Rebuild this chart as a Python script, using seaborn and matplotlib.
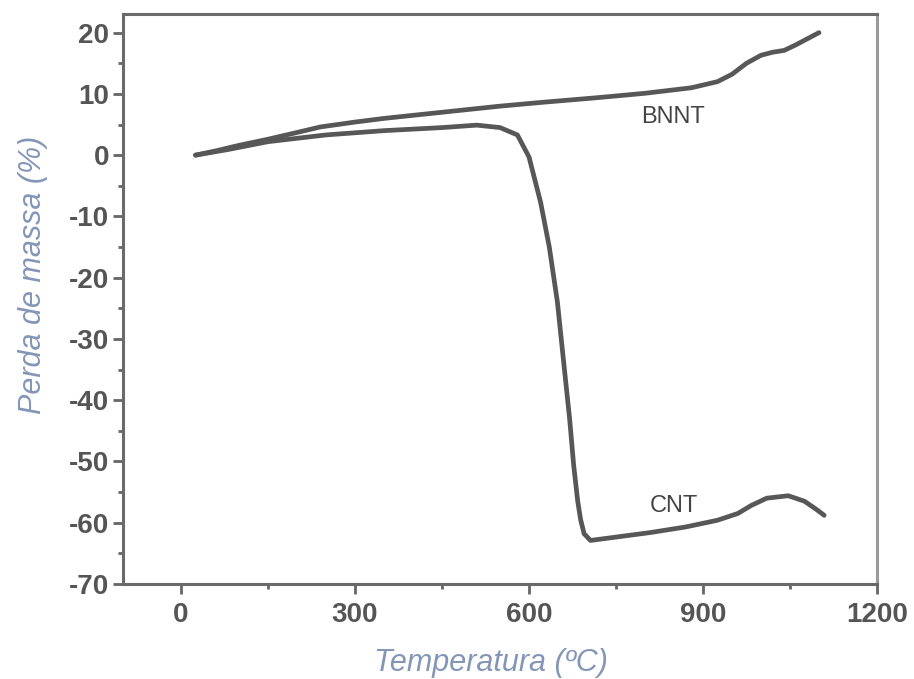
import matplotlib
matplotlib.use("Agg")
import matplotlib.pyplot as plt
from matplotlib.ticker import MultipleLocator
import seaborn as sns
import pandas as pd

# Data (temperature in °C, mass change in %)
bnnt_temp = [25, 60, 100, 150, 200, 240, 300, 350, 420, 480, 550, 620, 720, 800, 880, 925, 950, 975, 1000, 1020, 1040, 1060, 1080, 1100]
bnnt_mass = [0.0, 0.7, 1.6, 2.6, 3.7, 4.6, 5.4, 6.0, 6.7, 7.3, 8.0, 8.6, 9.4, 10.1, 11.0, 12.0, 13.2, 15.0, 16.3, 16.8, 17.1, 18.0, 19.0, 20.0]
cnt_temp = [25, 80, 150, 250, 350, 450, 510, 550, 580, 600, 620, 635, 649, 660, 670, 677, 684, 689, 695, 706, 730, 810, 870, 925, 960, 983, 1010, 1047, 1075, 1095, 1109]
cnt_mass = [0.0, 0.9, 2.2, 3.3, 4.0, 4.5, 4.9, 4.5, 3.3, -0.3, -7.7, -15.0, -24.0, -34.0, -43.0, -50.6, -56.5, -59.5, -61.8, -62.9, -62.6, -61.6, -60.7, -59.6, -58.5, -57.2, -56.0, -55.6, -56.5, -57.8, -58.8]
series_labels = ["BNNT", "CNT"]

x_ticks = [0, 300, 600, 900, 1200]
y_ticks = [20, 10, 0, -10, -20, -30, -40, -50, -60, -70]

df = pd.concat([
    pd.DataFrame({"T": bnnt_temp, "m": bnnt_mass, "s": series_labels[0]}),
    pd.DataFrame({"T": cnt_temp, "m": cnt_mass, "s": series_labels[1]}),
])

sns.set_style("white")
plt.rcParams["font.family"] = ["Liberation Sans", "DejaVu Sans"]
plt.rcParams["axes.unicode_minus"] = False

fig = plt.figure(figsize=(9.14, 6.79), dpi=100)
ax = fig.add_axes([0.1346, 0.140, 0.8249, 0.839])

sns.lineplot(data=df, x="T", y="m", hue="s", palette=["#575757", "#575757"],
             linewidth=3.4, legend=False, ax=ax, sort=False, estimator=None)

ax.set_xlim(-100, 1200)
ax.set_ylim(-70, 23)
ax.set_xticks(x_ticks)
ax.set_yticks(y_ticks)
ax.xaxis.set_minor_locator(MultipleLocator(150))
ax.yaxis.set_minor_locator(MultipleLocator(5))
ax.tick_params(axis="both", which="major", direction="out", length=7, width=2,
               color="#666666", labelsize=20, labelcolor="#555555")
ax.tick_params(axis="both", which="minor", direction="out", length=3.5, width=2,
               color="#666666")
ax.tick_params(axis="x", bottom=True, which="both", pad=6)
ax.tick_params(axis="y", left=True, which="both", pad=3)
for lab in ax.get_xticklabels() + ax.get_yticklabels():
    lab.set_fontweight("bold")

for side in ["left", "bottom", "top"]:
    ax.spines[side].set_color("#6a6a6a")
    ax.spines[side].set_linewidth(2.2)
ax.spines["right"].set_color("#9a9a9a")
ax.spines["right"].set_linewidth(2.2)

ax.set_xlabel("Temperatura (ºC)", fontsize=22, style="italic", color="#8496b8")
ax.set_ylabel("Perda de massa (%)", fontsize=22, style="italic", color="#8496b8")
ax.xaxis.set_label_coords(0.488, -0.112)
ax.yaxis.set_label_coords(-0.099, 0.542)

ax.text(849, 6.2, series_labels[0], fontsize=17, color="#444444", ha="center", va="center")
ax.text(849, -57.2, series_labels[1], fontsize=17, color="#444444", ha="center", va="center")

fig.savefig("out.png", dpi=100)
